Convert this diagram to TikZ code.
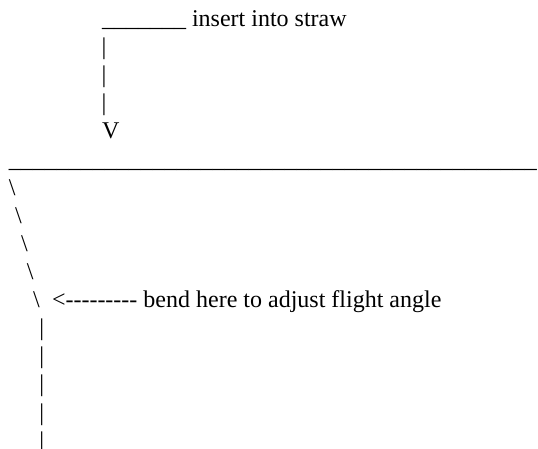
\documentclass[tikz,border=0pt]{standalone}
\usepackage{fontspec}
\setmainfont{Liberation Serif}[Ligatures=TeXOff]
\def\lh{28.1}
\def\sp{6}

\begin{document}
\begin{tikzpicture}[x=1pt, y=-1pt, font=\fontsize{24}{28}\selectfont,
  ascii/.style={anchor=base west, inner sep=0pt, outer sep=0pt}]
\useasboundingbox (0,0) rectangle (538,449);

% straw and arrow into it
\node[ascii] (straw) at (102,26.6) {\_\_\_\_\_\_\_ insert into straw};
\foreach \i in {1,2,3}{
    \node[ascii] (down\i) at (101.7,{26.6+\i*\lh}) {|};
}
\node[ascii] (tip) at (102,{26.6+4*\lh}) {V};

% top edge
\node[ascii] (edge) at (9,{26.6+5*\lh}) {\_\_\_\_\_\_\_\_\_\_\_\_\_\_\_\_\_\_\_\_\_\_\_\_\_\_\_\_\_\_\_\_\_\_\_\_\_\_\_\_\_\_\_\_};

% slanted part
\foreach \i in {0,...,4}{
    \node[ascii] (slant\i) at ({9+\i*\sp},{26.6+(6+\i)*\lh}) {\textbackslash};
}
\node[ascii] (bendnote) at (52,{26.6+10*\lh}) {<--------- bend here to adjust flight angle};

% straight tail
\foreach \i in {1,...,5}{
    \node[ascii] (tail\i) at (39.3,{26.6+(10+\i)*\lh}) {|};
}

\end{tikzpicture}
\end{document}
